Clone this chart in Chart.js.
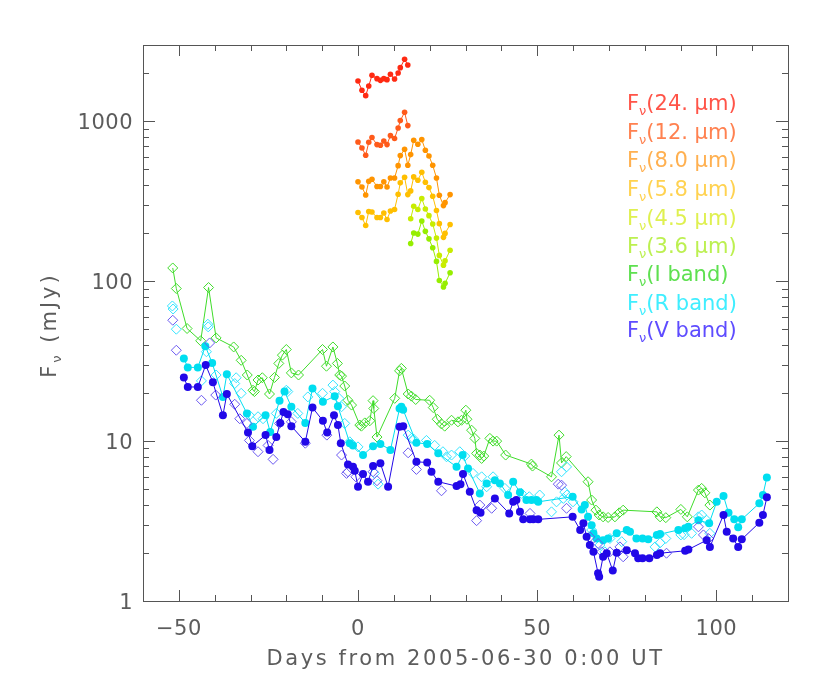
<!DOCTYPE html>
<html>
<head>
<meta charset="utf-8">
<script src="https://cdn.jsdelivr.net/npm/chart.js@4.4.0/dist/chart.umd.min.js"></script>
<style>
  html, body { margin: 0; padding: 0; background: #fff; }
  #wrap { width: 830px; height: 692px; }
</style>
</head>
<body>
<div id="wrap"><canvas id="chart" width="830" height="692"></canvas></div>
<script>
// ---------- Data (days from 2005-06-30, flux in mJy) ----------
const irDaysA = [0.0, 1.1, 2.15, 3.0, 3.9, 5.3, 6.25, 7.2, 8.1, 9.05, 10.2, 11.2, 11.8, 13.0, 13.9];
const irDaysB = [14.7, 15.55, 16.7, 17.8, 18.8, 19.8, 20.85, 21.9, 22.7, 23.85, 24.3, 25.7];

const flux24 = [1786, 1563, 1447, 1662, 1939, 1848, 1803, 1848, 1822, 1967, 1837, 2004, 2165, 2441, 2249];
const flux12 = [742, 681, 613, 739, 791, 715, 708, 753, 715, 814, 780, 908, 1010, 1138, 940];
const flux80 = [418, 388, 346, 422, 434, 391, 391, 418, 388, 442, 442, 528, 610, 668, 531,
                619, 761, 718, 768, 659, 607, 531, 442, 345, 297, 310, 348];
const flux58 = [269, 250, 223, 273, 271, 250, 250, 267, 243, 275, 281, 350, 412, 447, 348,
                367, 449, 428, 480, 416, 385, 340, 277, 229, 188, 199, 226];
const flux45 = [246, 294, 281, 329, 283, 257, 228, 186, 145, 126, 134, 156];
const flux36 = [172, 200, 197, 238, 205, 184, 162, 133, 101, 92, 97, 113];

const iDays = [-51.7, -50.7, -47.7, -43.9, -41.7, -39.6, -34.7, -32.6, -30.9, -29.3, -28.9, -27.9, -26.7,
               -24.7, -23.3, -22.1, -21.1, -20.0, -18.6, -16.6, -9.9, -8.8, -7.0, -5.75, -5.1, -4.6, -3.7,
               -2.8, -1.8, 0.5, 0.95, 1.9, 3.3, 4.2, 4.4, 5.3, 10.25, 11.6, 12.1, 14.0, 14.9, 16.1, 20.0,
               21.0, 22.1, 23.3, 24.2, 26.1, 27.9, 28.9, 30.1, 30.4, 31.7, 32.6, 33.1, 34.0, 34.5, 35.1,
               36.8, 37.7, 38.7, 41.2, 48.4, 48.7, 54.0, 56.1, 56.8, 58.1, 64.2, 65.2, 66.4, 67.3, 68.4,
               69.8, 71.7, 72.9, 74.0, 83.4, 84.3, 85.9, 90.1, 91.9, 95.0, 95.9, 96.8, 98.2];
const iFlux = [121, 90, 50.6, 42.4, 91.3, 44.2, 38.8, 32, 25.9, 20.8, 20.4, 24.1, 24.9,
               19.7, 25, 30.6, 34.5, 37.4, 26.7, 25.9, 37.4, 29.4, 38.8, 30.6, 25.9, 25.5, 22.1,
               18.0, 16.8, 12.6, 12.4, 13.0, 13.4, 17.9, 16.0, 10.6, 18.5, 27.5, 28.5, 19.7, 19.1, 18.2, 18.0,
               16.2, 13.7, 12.8, 12.4, 13.5, 13.2, 13.5, 15.6, 13.7, 11.7, 10.4, 8.38, 8.18, 7.79, 8.06,
               10.4, 10.0, 10.0, 8.18, 7.18, 6.98, 5.98, 10.9, 7.3, 8.0, 5.57, 4.28, 3.7, 3.45, 3.36,
               3.33, 3.36, 3.56, 3.7, 3.61, 3.36, 3.32, 3.74, 3.36, 4.94, 5.06, 4.75, 3.98];

const rDiaDays = [-51.8, -51.6, -50.7, -43.7, -42.3, -41.9, -41.8, -39.6, -34.4, -34.0, -32.6, -30.3, -27.9,
                  -26.5, -22.8, -20.0, -19.6, -16.8, -14.0, -9.9, -7.0, -6.5, -5.3, -4.6, -3.7, -2.3, 0.0,
                  4.6, 5.6, 14.0, 14.9, 15.5, 19.1, 21.4, 23.7, 24.7, 26.1, 28.4, 29.8, 32.1, 34.5, 35.9,
                  37.7, 41.0, 45.6, 47.8, 50.7, 54.0, 55.4, 56.8, 57.3, 57.7, 58.2, 58.3, 60.0, 65.2, 67.5,
                  68.9, 70.3, 73.6, 82.9, 84.3, 85.9, 90.1, 91.0, 93.1, 95.0, 95.9, 97.3, 98.2];
const rDiaFlux = [70, 67, 50.1, 23.8, 36.2, 53.8, 51.8, 25.9, 22.9, 24.9, 19.9, 14.5, 14.2,
                  13.8, 14.9, 20.8, 20.4, 14.9, 18.9, 19.9, 22.4, 20.4, 18.5, 16.4, 12.9, 9.9, 9.2,
                  6.28, 5.38, 10.9, 10.4, 10.3, 10.1, 9.4, 8.58, 7.98, 8.18, 8.58, 8.06, 6.28, 5.98, 5.18,
                  5.98, 5.06, 4.71, 4.49, 4.6, 3.61, 4.17, 6.43, 4.38, 4.8, 6.9, 4.6, 4.17, 2.78, 2.24,
                  2.03, 2.46, 2.35, 2.18, 2.31, 2.46, 2.59, 2.6, 2.65, 3.36, 3.45, 3.2, 2.65];

const rDotDays = [-48.6, -47.5, -44.7, -42.6, -40.7, -37.7, -36.6, -31.0, -29.3, -25.8, -24.5, -21.9, -20.5,
                  -18.6, -14.7, -12.7, -9.8, -6.5, -5.6, -2.3, -1.4, 1.4, 4.2, 6.25, 9.05, 11.6, 12.1, 12.6,
                  16.3, 19.3, 22.4, 27.5, 29.2, 30.7, 34.0, 35.9, 38.2, 39.6, 41.9, 43.3, 45.2, 47.0, 48.4,
                  49.8, 50.3, 59.9, 62.4, 63.3, 64.2, 65.2, 65.7, 66.6, 68.4, 69.8, 72.2, 75.0, 75.9, 77.7,
                  79.4, 81.0, 83.4, 84.3, 89.4, 91.3, 92.2, 95.0, 98.0, 100.1, 102.0, 103.4, 105.0, 106.1,
                  107.1, 112.0, 113.0, 114.1];
const rDotFlux = [32.9, 28.9, 28.9, 39.2, 30.8, 18.9, 26.2, 14.9, 12.3, 14.5, 11.4, 17.9, 20.4,
                  16.4, 13.0, 21.3, 17.6, 19.1, 16.5, 9.7, 9.4, 8.18, 9.3, 9.6, 8.8, 16.0, 16.4, 15.7,
                  9.76, 9.6, 8.38, 6.9, 8.18, 6.75, 4.71, 5.44, 5.7, 5.44, 4.6, 5.57, 4.78, 4.28, 4.28,
                  4.28, 4.17, 4.49, 3.74, 3.98, 3.36, 2.98, 2.65, 2.46, 2.4, 2.46, 2.65, 2.78, 2.71, 2.46,
                  2.46, 2.43, 2.59, 2.62, 2.78, 2.85, 2.91, 3.2, 3.06, 4.17, 4.53, 3.56, 3.24, 2.89,
                  3.24, 4.08, 4.6, 5.93];

const vDiaDays = [-51.7, -50.7, -43.7, -41.4, -39.7, -34.4, -33.0, -31.0, -30.3, -27.9, -25.1, -23.7, -21.9,
                  -18.6, -14.7, -8.7, -4.6, -3.2, -2.8, -0.6, 4.2, 5.3, 14.0, 16.3, 23.3, 33.1, 34.0, 37.3,
                  48.0, 55.9, 56.8, 58.2, 64.7, 67.0, 68.0, 70.3, 73.1, 74.0, 86.1, 95.0, 96.4, 97.8];
const vDiaFlux = [57, 37, 18.0, 41.1, 19.4, 17.0, 13.8, 12.9, 10.1, 8.58, 9.4, 7.69, 12.9,
                  13.2, 9.7, 10.9, 8.18, 6.28, 6.43, 5.98, 6.43, 5.65, 8.45, 6.65, 4.89, 3.18, 3.98, 3.8,
                  3.53, 5.38, 5.3, 3.8, 2.52, 2.29, 2.03, 2.03, 2.18, 1.89, 1.99, 2.91, 2.59, 2.46];

const vDotDays = [-48.6, -47.5, -44.7, -42.5, -40.5, -37.7, -36.6, -30.7, -29.5, -25.8, -24.7, -22.8, -21.7,
                  -20.8, -19.6, -18.6, -14.7, -12.7, -9.8, -8.6, -6.7, -5.6, -4.8, -2.8, -1.4, -0.9, 0.0,
                  1.4, 2.8, 4.2, 6.25, 8.4, 11.6, 12.6, 16.3, 19.3, 20.5, 22.4, 27.5, 28.6, 29.3, 31.2,
                  33.1, 34.2, 38.2, 42.2, 43.3, 44.2, 45.2, 46.1, 48.0, 48.9, 50.3, 59.9, 62.0, 62.9, 63.8,
                  64.7, 65.7, 67.0, 67.3, 68.4, 69.4, 71.1, 72.2, 75.0, 77.3, 78.2, 79.4, 81.3, 83.4, 84.3,
                  91.3, 92.2, 97.3, 98.2, 102.0, 102.9, 104.7, 106.1, 107.1, 112.0, 113.0, 114.1];
const vDotFlux = [25, 21.8, 21.8, 29.9, 23.3, 14.5, 19.7, 11.3, 9.3, 10.9, 8.8, 10.6, 13.0,
                  15.2, 14.7, 12.4, 9.9, 16.2, 13.4, 11.3, 14.5, 12.6, 9.7, 7.15, 6.9, 6.52, 5.18,
                  6.22, 5.57, 6.98, 7.26, 5.18, 12.3, 12.4, 7.42, 7.35, 6.43, 5.57, 5.23, 5.38, 6.22, 4.82,
                  3.7, 3.56, 4.38, 3.53, 4.17, 4.28, 3.61, 3.24, 3.24, 3.24, 3.24, 3.36, 2.78, 3.06, 2.52,
                  2.24, 2.03, 1.49, 1.42, 1.89, 1.99, 1.55, 2.0, 2.08, 1.99, 1.85, 1.85, 1.85, 1.94, 1.99,
                  2.06, 2.1, 2.4, 2.18, 3.45, 2.71, 2.46, 2.18, 2.43, 3.09, 3.45, 4.45];

const xTickValues = [-50, 0, 50, 100];
const yTickValues = [1, 10, 100, 1000];
const legendLabels = ["(24. \u00b5m)", "(12. \u00b5m)", "(8.0 \u00b5m)", "(5.8 \u00b5m)", "(4.5 \u00b5m)",
                      "(3.6 \u00b5m)", "(I band)", "(R band)", "(V band)"];
const legendColors = ["#ff5448", "#ff8150", "#ffb050", "#ffd250", "#dff050", "#bcf050", "#5ee050", "#40eeff", "#5e4cff"];
const legendBaselines = [110, 139, 167, 196, 225, 253, 281, 310, 337];

// ---------- Helpers ----------
const pts = (xs, ys) => xs.map((x, i) => ({ x: x, y: ys[i] }));
const FONT = '"DejaVu Sans", sans-serif';
const AXIS = "#555";
const TEXT = "#5c5c5c";

function series(label, xs, ys, color, opts) {
  const diamond = opts.diamond;
  return {
    label: label,
    data: pts(xs, ys),
    showLine: opts.line,
    borderColor: color,
    borderWidth: 1,
    pointStyle: diamond ? "rectRot" : "circle",
    pointRadius: opts.r,
    pointBorderWidth: diamond ? 1 : 0,
    pointBorderColor: color,
    pointBackgroundColor: diamond ? "rgba(0,0,0,0)" : color,
    order: opts.order
  };
}

// F with subscript nu, then the rest of the text
function drawFnu(ctx, x, y, rest, size, spacing) {
  ctx.letterSpacing = spacing + "px";
  ctx.font = size + "px " + FONT;
  ctx.fillText("F", x, y);
  let w = ctx.measureText("F").width;
  ctx.font = Math.round(size * 0.62) + "px " + FONT;
  ctx.fillText("\u03bd", x + w, y + size * 0.22);
  w += ctx.measureText("\u03bd").width;
  ctx.font = size + "px " + FONT;
  ctx.fillText(rest, x + w, y);
  return w + ctx.measureText(rest).width;
}

function widthFnu(ctx, rest, size, spacing) {
  ctx.letterSpacing = spacing + "px";
  ctx.font = size + "px " + FONT;
  let w = ctx.measureText("F").width + ctx.measureText(rest).width;
  ctx.font = Math.round(size * 0.62) + "px " + FONT;
  return w + ctx.measureText("\u03bd").width;
}

// ---------- IDL-style frame, inward ticks, labels, legend ----------
const idlFrame = {
  id: "idlFrame",
  afterDraw(chart) {
    const { ctx, chartArea: a, scales: { x, y } } = chart;
    ctx.save();
    ctx.strokeStyle = AXIS;
    ctx.lineWidth = 1;
    ctx.strokeRect(Math.round(a.left) + 0.5, Math.round(a.top) + 0.5,
                   Math.round(a.right - a.left), Math.round(a.bottom - a.top));

    ctx.beginPath();
    for (let v = x.min + 10; v < x.max; v += 10) {
      const px = Math.round(x.getPixelForValue(v)) + 0.5;
      const len = v % 50 === 0 ? 11 : 6;
      ctx.moveTo(px, a.bottom); ctx.lineTo(px, a.bottom - len);
      ctx.moveTo(px, a.top); ctx.lineTo(px, a.top + len);
    }
    for (let d = 1; d < y.max; d *= 10) {
      for (let m = 1; m <= 9; m++) {
        const v = m * d;
        if (v <= y.min || v >= y.max) continue;
        const py = Math.round(y.getPixelForValue(v)) + 0.5;
        const len = m === 1 ? 12 : 6;
        ctx.moveTo(a.left, py); ctx.lineTo(a.left + len, py);
        ctx.moveTo(a.right, py); ctx.lineTo(a.right - len, py);
      }
    }
    ctx.stroke();

    ctx.fillStyle = TEXT;
    ctx.font = "21px " + FONT;
    ctx.letterSpacing = "0.5px";
    ctx.textBaseline = "alphabetic";
    ctx.textAlign = "center";
    xTickValues.forEach(v => {
      const t = v < 0 ? "\u2212" + Math.abs(v) : String(v);
      ctx.fillText(t, x.getPixelForValue(v), 635);
    });
    ctx.textAlign = "right";
    yTickValues.forEach(v => {
      ctx.fillText(String(v), 133, y.getPixelForValue(v) + 8);
    });

    // x title
    ctx.textAlign = "center";
    ctx.letterSpacing = "2.6px";
    ctx.fillText("Days from 2005-06-30 0:00 UT", (a.left + a.right) / 2, 665);

    // y title, rotated
    ctx.textAlign = "left";
    const wy = widthFnu(ctx, " (mJy)", 21, 3);
    ctx.save();
    ctx.translate(56, (a.top + a.bottom) / 2 + 2);
    ctx.rotate(-Math.PI / 2);
    drawFnu(ctx, -wy / 2, 0, " (mJy)", 21, 3);
    ctx.restore();

    // legend
    legendLabels.forEach((t, i) => {
      ctx.fillStyle = legendColors[i];
      drawFnu(ctx, 627, legendBaselines[i], t, 21, 0);
    });
    ctx.restore();
  }
};

// ---------- Chart ----------
const datasets = [
  series("24 um", irDaysA, flux24, "#ff2a12", { line: true, r: 2.8, order: 9 }),
  series("12 um", irDaysA, flux12, "#ff5a1a", { line: true, r: 2.8, order: 8 }),
  series("8.0 um", irDaysA.concat(irDaysB), flux80, "#ff9400", { line: true, r: 2.8, order: 7 }),
  series("5.8 um", irDaysA.concat(irDaysB), flux58, "#ffbf00", { line: true, r: 2.8, order: 6 }),
  series("4.5 um", irDaysB, flux45, "#c8ec00", { line: true, r: 2.8, order: 5 }),
  series("3.6 um", irDaysB, flux36, "#96ee00", { line: true, r: 2.8, order: 4 }),
  series("I band", iDays, iFlux, "#3fdc2a", { line: true, diamond: true, r: 5, order: 3.5 }),
  series("R band (2)", rDiaDays, rDiaFlux, "#33e4ff", { line: false, diamond: true, r: 5, order: 3 }),
  series("R band", rDotDays, rDotFlux, "#00def0", { line: true, r: 4, order: 2 }),
  series("V band (2)", vDiaDays, vDiaFlux, "#6a58f0", { line: false, diamond: true, r: 5, order: 1 }),
  series("V band", vDotDays, vDotFlux, "#2208e8", { line: true, r: 4, order: 0 })
];

new Chart(document.getElementById("chart"), {
  type: "scatter",
  data: { datasets: datasets },
  options: {
    responsive: false,
    animation: false,
    devicePixelRatio: 1,
    layout: { padding: { left: 143, top: 45, right: 42, bottom: 91 } },
    plugins: { legend: { display: false }, tooltip: { enabled: false } },
    scales: {
      x: { type: "linear", min: -60, max: 120, display: false },
      y: { type: "logarithmic", min: 1, max: 3000, display: false }
    }
  },
  plugins: [idlFrame]
});
</script>
</body>
</html>
